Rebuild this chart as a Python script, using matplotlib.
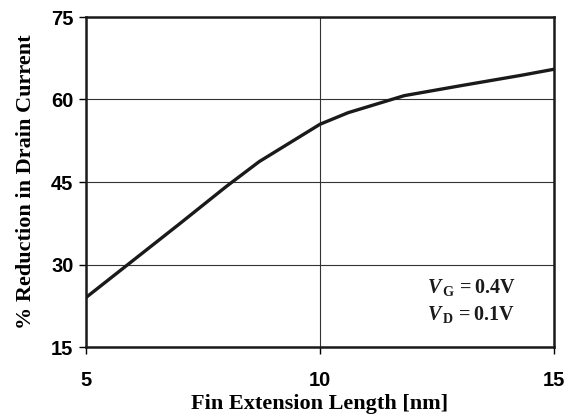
import matplotlib
matplotlib.use("Agg")
import matplotlib.pyplot as plt

plt.rcParams["mathtext.fontset"] = "custom"
plt.rcParams["mathtext.rm"] = "Liberation Serif:bold"
plt.rcParams["mathtext.it"] = "Liberation Serif:bold:italic"
plt.rcParams["mathtext.bf"] = "Liberation Serif:bold"

x_vals = [5, 6, 7, 8, 8.7, 10, 10.6, 11.8, 13, 14.3, 15]
y_vals = [24, 30.7, 37.4, 44.2, 48.7, 55.5, 57.6, 60.7, 62.5, 64.4, 65.5]
x_ticks = [5, 10, 15]
y_ticks = [15, 30, 45, 60, 75]
x_label = "Fin Extension Length [nm]"
y_label = "% Reduction in Drain Current"
notes = [r"$V_{\,\mathrm{G}}\,\mathrm{= 0.4V}$", r"$V_{\,\mathrm{D}}\,\mathrm{= 0.1V}$"]

fig = plt.figure(figsize=(5.74, 4.15), dpi=100)
ax = fig.add_axes([86/574, 1-347/415, (554-86)/574, (347-17)/415])

ax.plot(x_vals, y_vals, color="#1a1a1a", lw=2.4, solid_joinstyle="round")
ax.set_xlim(5, 15)
ax.set_ylim(15, 75)
ax.set_xticks(x_ticks)
ax.set_yticks(y_ticks)
ax.set_xticklabels([str(v) for v in x_ticks], family="Liberation Sans", weight="bold", fontsize=14.5)
ax.set_yticklabels([str(v) for v in y_ticks], family="Liberation Sans", weight="bold", fontsize=14.5)
ax.tick_params(axis="y", direction="out", length=5, width=1, pad=4)
ax.tick_params(axis="x", direction="out", length=5, width=1, pad=12)
ax.grid(True, color="#333333", lw=0.8)
for s in ax.spines.values():
    s.set_linewidth(1.8)
    s.set_color("#1a1a1a")

ax.set_xlabel(x_label, family="Liberation Serif", weight="bold", fontsize=16, labelpad=3)
ax.set_ylabel(y_label, family="Liberation Serif", weight="bold", fontsize=16, labelpad=11)

ax.text(0.729, 0.18, notes[0], transform=ax.transAxes, fontsize=14.5, va="center", ha="left", color="#1a1a1a")
ax.text(0.729, 0.097, notes[1], transform=ax.transAxes, fontsize=14.5, va="center", ha="left", color="#1a1a1a")

fig.savefig("out.png", dpi=100)
